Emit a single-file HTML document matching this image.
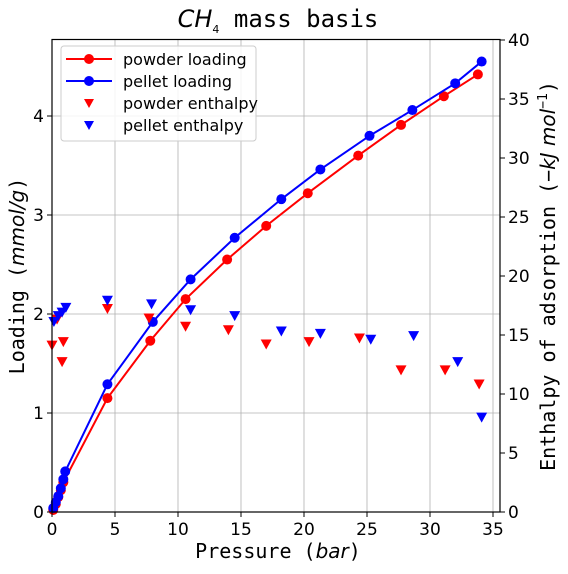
<!DOCTYPE html>
<html><head><meta charset="utf-8"><style>
html,body{margin:0;padding:0;background:#fff;}
svg text{font-family:"DejaVu Sans","Liberation Sans",sans-serif;}
.mono{font-family:"DejaVu Sans Mono","Liberation Mono",monospace;}
</style></head><body>
<svg id="chart" width="568" height="569" xmlns="http://www.w3.org/2000/svg">
<g id="grid"></g>
<g id="series"></g>
<rect x="52" y="39.5" width="448" height="472.5" fill="none" stroke="#000" stroke-width="1.2"/>
<g id="axes"></g>
<text x="278" y="27" text-anchor="middle" font-size="24"><tspan font-style="italic">CH</tspan><tspan font-size="11" dy="6">4</tspan><tspan class="mono" dy="-6"> mass basis</tspan></text>
<text class="mono" x="278" y="558" text-anchor="middle" font-size="20">Pressure (<tspan font-style="italic" font-family="DejaVu Sans">bar</tspan>)</text>
<text class="mono" transform="translate(24,276) rotate(-90)" text-anchor="middle" font-size="20">Loading (<tspan font-style="italic" font-family="DejaVu Sans">mmol/g</tspan>)</text>
<text class="mono" transform="translate(555,276) rotate(-90)" text-anchor="middle" font-size="20">Enthalpy of adsorption (−<tspan font-style="italic" font-family="DejaVu Sans">kJ mol</tspan><tspan font-size="13" dy="-8">−1</tspan><tspan dy="8">)</tspan></text>
<g>
<rect x="61" y="46" width="195" height="95" rx="3" fill="#fff" fill-opacity="0.85" stroke="#ccc"/>
<line x1="66" y1="59" x2="112" y2="59" stroke="red" stroke-width="2"/><circle cx="89" cy="59" r="5" fill="red"/>
<text x="123" y="65" font-size="16">powder loading</text>
<line x1="66" y1="81" x2="112" y2="81" stroke="blue" stroke-width="2"/><circle cx="89" cy="81" r="5" fill="blue"/>
<text x="123" y="87" font-size="16">pellet loading</text>
<path d="M84,99 L94,99 L89,108 Z" fill="red"/>
<text x="123" y="109" font-size="16">powder enthalpy</text>
<path d="M84,121 L94,121 L89,130 Z" fill="blue"/>
<text x="123" y="131" font-size="16">pellet enthalpy</text>
</g>
</svg>
<script>
const xTicks=[0,5,10,15,20,25,30,35];
const yTicks=[0,1,2,3,4];
const y2Ticks=[0,5,10,15,20,25,30,35,40];
const powderP=[0.1,0.3,0.5,0.7,0.9,4.4,7.8,10.6,13.9,17.0,20.3,24.3,27.7,31.1,33.8];
const powderLoad=[0.02,0.08,0.15,0.22,0.3,1.15,1.73,2.15,2.55,2.89,3.22,3.6,3.91,4.2,4.42];
const pelletP=[0.1,0.3,0.5,0.7,0.9,1.05,4.4,8.0,11.0,14.5,18.2,21.3,25.2,28.6,32.0,34.1];
const pelletLoad=[0.04,0.1,0.16,0.24,0.33,0.41,1.29,1.92,2.35,2.77,3.16,3.46,3.8,4.06,4.33,4.55];
const powderHP=[0,0.4,0.8,0.9,4.4,7.7,10.6,14.0,17.0,20.4,24.4,27.7,31.2,33.9];
const powderH=[14.1,16.3,12.7,14.4,17.2,16.4,15.7,15.4,14.2,14.4,14.7,12.0,12.0,10.8];
const pelletHP=[0.15,0.5,0.8,1.1,4.4,7.9,11.0,14.5,18.2,21.3,25.3,28.7,32.2,34.1];
const pelletH=[16.1,16.6,16.9,17.3,17.9,17.6,17.1,16.6,15.3,15.1,14.6,14.9,12.7,8.0];
const NS='http://www.w3.org/2000/svg';
const X=v=>52+v*12.6, Y=v=>512-v*99, Y2=v=>512-v*11.8;
function mk(t,a,p){const e=document.createElementNS(NS,t);for(const k in a)e.setAttribute(k,a[k]);p.appendChild(e);return e;}
const grid=document.getElementById('grid'),axes=document.getElementById('axes'),ser=document.getElementById('series');
xTicks.forEach(v=>{const l=mk('line',{x1:X(v),x2:X(v),y1:39.5,y2:512,stroke:'#b0b0b0','stroke-width':0.8},grid);

mk('line',{x1:X(v),x2:X(v),y1:512,y2:517,stroke:'#000'},axes);
const t=mk('text',{x:X(v),y:535,'text-anchor':'middle','font-size':17},axes);t.textContent=v;
});
yTicks.forEach(v=>{const l=mk('line',{x1:52,x2:500,y1:Y(v),y2:Y(v),stroke:'#b0b0b0','stroke-width':0.8},grid);

mk('line',{x1:47,x2:52,y1:Y(v),y2:Y(v),stroke:'#000'},axes);
const t=mk('text',{x:44,y:Y(v)+6,'text-anchor':'end','font-size':17},axes);t.textContent=v;
});
y2Ticks.forEach(v=>{mk('line',{x1:500,x2:505,y1:Y2(v),y2:Y2(v),stroke:'#000'},axes);
const t=mk('text',{x:508,y:Y2(v)+6,'font-size':17},axes);t.textContent=v;
});
function line(px,py,c,name){const pl=mk('polyline',{points:px.map((p,i)=>X(p)+','+Y(py[i])).join(' '),fill:'none',stroke:c,'stroke-width':2},ser);

px.forEach((p,i)=>{const c2=mk('circle',{cx:X(p),cy:Y(py[i]),r:5,fill:c},ser);
});}
function tri(px,py,c,name){px.forEach((p,i)=>{const x=X(p),y=Y2(py[i]);
const t=mk('path',{d:`M${x-5.5},${y-5} L${x+5.5},${y-5} L${x},${y+5} Z`,fill:c},ser);
});}
line(powderP,powderLoad,'red','powder-loading');
line(pelletP,pelletLoad,'blue','pellet-loading');
tri(powderHP,powderH,'red','powder-enthalpy');
tri(pelletHP,pelletH,'blue','pellet-enthalpy');
</script>
</body></html>
